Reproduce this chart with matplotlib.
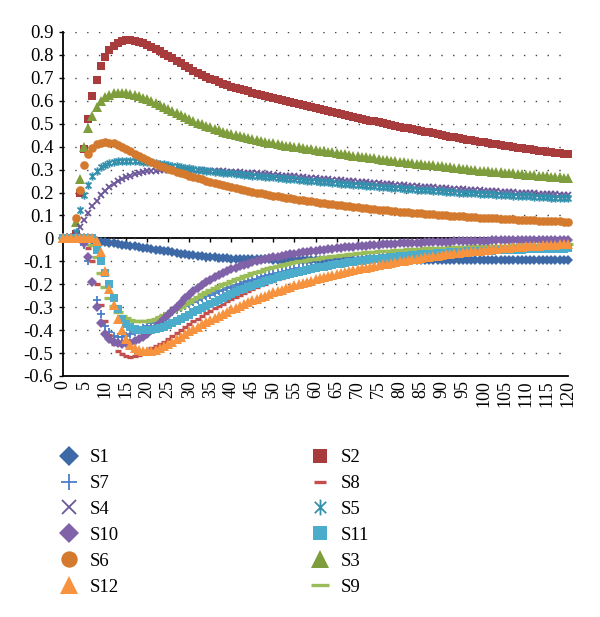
import matplotlib
matplotlib.use("Agg")
import matplotlib.pyplot as plt
from matplotlib.path import Path
from matplotlib.ticker import MultipleLocator, FuncFormatter

# x positions (every step 0..120)
t = list(range(121))

# ---- series values ----
s1 = [0, 0, 0, 0, 0, 0, 0, -0.008, -0.011, -0.014,
      -0.017, -0.019, -0.022, -0.024, -0.027, -0.030, -0.033, -0.035, -0.038, -0.040,
      -0.043, -0.046, -0.049, -0.051, -0.054, -0.057, -0.060, -0.063, -0.066, -0.069,
      -0.072, -0.074, -0.076, -0.078, -0.080, -0.082, -0.083, -0.084, -0.086, -0.087,
      -0.088, -0.089, -0.089, -0.090, -0.090, -0.091, -0.091, -0.092, -0.092, -0.092,
      -0.093, -0.093, -0.093, -0.093, -0.094, -0.094, -0.094, -0.094, -0.094, -0.094,
      -0.095, -0.095, -0.095, -0.095, -0.095, -0.095, -0.095, -0.095, -0.095, -0.095,
      -0.095, -0.095, -0.095, -0.095, -0.095, -0.095, -0.095, -0.095, -0.095, -0.095,
      -0.095, -0.095, -0.095, -0.095, -0.095, -0.095, -0.095, -0.095, -0.095, -0.095,
      -0.095, -0.095, -0.095, -0.095, -0.095, -0.095, -0.095, -0.095, -0.095, -0.095,
      -0.095, -0.095, -0.095, -0.095, -0.095, -0.095, -0.095, -0.095, -0.095, -0.095,
      -0.095, -0.095, -0.095, -0.095, -0.095, -0.095, -0.095, -0.095, -0.095, -0.095,
      -0.095]
s2 = [0, 0, 0, 0.02, 0.20, 0.39, 0.52, 0.62, 0.69, 0.75,
      0.79, 0.82, 0.84, 0.853, 0.861, 0.865, 0.865, 0.862, 0.857, 0.851,
      0.842, 0.834, 0.825, 0.816, 0.806, 0.795, 0.785, 0.774, 0.764, 0.753,
      0.742, 0.732, 0.723, 0.714, 0.705, 0.696, 0.689, 0.682, 0.675, 0.668,
      0.662, 0.656, 0.651, 0.646, 0.641, 0.636, 0.631, 0.626, 0.621, 0.617,
      0.612, 0.608, 0.603, 0.599, 0.594, 0.590, 0.585, 0.581, 0.577, 0.572,
      0.568, 0.564, 0.559, 0.555, 0.551, 0.547, 0.543, 0.539, 0.535, 0.530,
      0.526, 0.522, 0.518, 0.514, 0.510, 0.506, 0.502, 0.498, 0.494, 0.491,
      0.487, 0.483, 0.480, 0.476, 0.473, 0.469, 0.465, 0.462, 0.458, 0.455,
      0.451, 0.448, 0.444, 0.441, 0.438, 0.435, 0.431, 0.428, 0.425, 0.422,
      0.419, 0.416, 0.413, 0.410, 0.407, 0.405, 0.402, 0.399, 0.396, 0.393,
      0.391, 0.388, 0.385, 0.383, 0.380, 0.378, 0.375, 0.373, 0.371, 0.368,
      0.366]
s3 = [0, 0, 0, 0.07, 0.26, 0.40, 0.48, 0.535, 0.572, 0.598,
      0.615, 0.627, 0.633, 0.636, 0.636, 0.634, 0.631, 0.627, 0.622, 0.614,
      0.606, 0.599, 0.591, 0.583, 0.575, 0.566, 0.557, 0.548, 0.539, 0.530,
      0.521, 0.513, 0.505, 0.498, 0.491, 0.484, 0.478, 0.472, 0.466, 0.460,
      0.455, 0.450, 0.445, 0.441, 0.437, 0.433, 0.429, 0.425, 0.421, 0.418,
      0.414, 0.411, 0.408, 0.405, 0.402, 0.399, 0.397, 0.394, 0.391, 0.389,
      0.386, 0.383, 0.380, 0.378, 0.375, 0.372, 0.369, 0.367, 0.364, 0.361,
      0.359, 0.356, 0.354, 0.351, 0.349, 0.346, 0.344, 0.342, 0.339, 0.337,
      0.335, 0.333, 0.330, 0.328, 0.326, 0.324, 0.322, 0.320, 0.318, 0.316,
      0.314, 0.312, 0.310, 0.308, 0.306, 0.304, 0.302, 0.300, 0.298, 0.296,
      0.295, 0.293, 0.291, 0.289, 0.288, 0.286, 0.284, 0.283, 0.281, 0.280,
      0.278, 0.276, 0.275, 0.273, 0.272, 0.271, 0.269, 0.268, 0.266, 0.265,
      0.264]
s4 = [0, 0, 0, 0.02, 0.05, 0.08, 0.11, 0.14, 0.165, 0.188,
      0.207, 0.223, 0.237, 0.249, 0.259, 0.267, 0.274, 0.280, 0.285, 0.289,
      0.292, 0.294, 0.296, 0.298, 0.299, 0.300, 0.300, 0.300, 0.300, 0.299,
      0.299, 0.298, 0.297, 0.297, 0.296, 0.295, 0.294, 0.293, 0.292, 0.291,
      0.290, 0.289, 0.288, 0.286, 0.285, 0.284, 0.283, 0.281, 0.280, 0.279,
      0.277, 0.276, 0.274, 0.273, 0.271, 0.270, 0.268, 0.267, 0.265, 0.264,
      0.262, 0.261, 0.259, 0.258, 0.256, 0.255, 0.253, 0.252, 0.250, 0.249,
      0.247, 0.246, 0.244, 0.243, 0.241, 0.240, 0.239, 0.237, 0.236, 0.234,
      0.233, 0.232, 0.230, 0.229, 0.228, 0.226, 0.225, 0.224, 0.222, 0.221,
      0.220, 0.219, 0.217, 0.216, 0.215, 0.214, 0.213, 0.211, 0.210, 0.209,
      0.208, 0.207, 0.206, 0.205, 0.204, 0.203, 0.202, 0.201, 0.200, 0.199,
      0.198, 0.197, 0.196, 0.195, 0.194, 0.193, 0.193, 0.192, 0.191, 0.190,
      0.189]
s5 = [0, 0, 0, 0.03, 0.125, 0.19, 0.235, 0.27, 0.295, 0.31,
      0.32, 0.328, 0.333, 0.336, 0.338, 0.339, 0.339, 0.338, 0.337, 0.335,
      0.333, 0.331, 0.328, 0.326, 0.323, 0.320, 0.317, 0.314, 0.311, 0.308,
      0.305, 0.302, 0.299, 0.297, 0.295, 0.293, 0.291, 0.289, 0.287, 0.285,
      0.283, 0.281, 0.280, 0.278, 0.276, 0.274, 0.273, 0.271, 0.269, 0.267,
      0.266, 0.264, 0.262, 0.261, 0.259, 0.257, 0.256, 0.254, 0.252, 0.251,
      0.249, 0.247, 0.246, 0.244, 0.243, 0.241, 0.239, 0.238, 0.236, 0.235,
      0.233, 0.232, 0.230, 0.229, 0.227, 0.226, 0.224, 0.223, 0.221, 0.220,
      0.218, 0.217, 0.216, 0.214, 0.213, 0.212, 0.210, 0.209, 0.208, 0.206,
      0.205, 0.204, 0.203, 0.202, 0.200, 0.199, 0.198, 0.197, 0.196, 0.195,
      0.194, 0.193, 0.192, 0.191, 0.190, 0.189, 0.188, 0.187, 0.186, 0.185,
      0.184, 0.183, 0.182, 0.181, 0.180, 0.179, 0.178, 0.178, 0.177, 0.176,
      0.175]
s6 = [0, 0, 0, 0.09, 0.21, 0.32, 0.37, 0.395, 0.41, 0.418,
      0.42, 0.418, 0.414, 0.407, 0.399, 0.39, 0.38, 0.37, 0.36, 0.35,
      0.341, 0.333, 0.325, 0.317, 0.310, 0.303, 0.297, 0.291, 0.285, 0.279,
      0.273, 0.268, 0.262, 0.257, 0.252, 0.247, 0.243, 0.238, 0.234, 0.228,
      0.222, 0.218, 0.214, 0.210, 0.206, 0.203, 0.199, 0.196, 0.192, 0.189,
      0.186, 0.183, 0.180, 0.177, 0.174, 0.171, 0.168, 0.166, 0.163, 0.161,
      0.158, 0.156, 0.153, 0.151, 0.149, 0.146, 0.144, 0.142, 0.140, 0.138,
      0.136, 0.134, 0.132, 0.130, 0.128, 0.126, 0.124, 0.122, 0.121, 0.119,
      0.117, 0.115, 0.114, 0.112, 0.111, 0.109, 0.108, 0.106, 0.105, 0.103,
      0.102, 0.101, 0.099, 0.098, 0.097, 0.096, 0.095, 0.093, 0.092, 0.091,
      0.090, 0.089, 0.088, 0.087, 0.086, 0.085, 0.084, 0.083, 0.082, 0.081,
      0.080, 0.079, 0.079, 0.078, 0.077, 0.076, 0.075, 0.075, 0.074, 0.073,
      0.072]
s7 = [0, 0, 0, 0, 0, -0.03, -0.10, -0.19, -0.27, -0.33,
      -0.38, -0.41, -0.425, -0.43, -0.43, -0.425, -0.418, -0.41, -0.40, -0.39,
      -0.38, -0.37, -0.36, -0.35, -0.34, -0.33, -0.321, -0.312, -0.303, -0.294,
      -0.285, -0.277, -0.269, -0.261, -0.253, -0.245, -0.238, -0.231, -0.224, -0.217,
      -0.210, -0.204, -0.198, -0.192, -0.186, -0.180, -0.175, -0.170, -0.165, -0.160,
      -0.155, -0.151, -0.147, -0.142, -0.138, -0.134, -0.130, -0.127, -0.123, -0.119,
      -0.116, -0.113, -0.110, -0.107, -0.104, -0.101, -0.098, -0.095, -0.093, -0.090,
      -0.088, -0.085, -0.083, -0.081, -0.079, -0.077, -0.075, -0.073, -0.071, -0.069,
      -0.067, -0.066, -0.064, -0.063, -0.061, -0.060, -0.058, -0.057, -0.056, -0.055,
      -0.053, -0.052, -0.051, -0.050, -0.049, -0.048, -0.047, -0.046, -0.045, -0.044,
      -0.044, -0.043, -0.042, -0.041, -0.041, -0.040, -0.039, -0.039, -0.038, -0.037,
      -0.037, -0.036, -0.036, -0.035, -0.035, -0.034, -0.034, -0.033, -0.033, -0.032,
      -0.032]
s8 = [0, 0, 0, 0, 0, 0, -0.04, -0.10, -0.20, -0.29,
      -0.36, -0.42, -0.46, -0.49, -0.505, -0.512, -0.515, -0.513, -0.508, -0.50,
      -0.49, -0.48, -0.47, -0.46, -0.45, -0.438, -0.425, -0.412, -0.40, -0.387,
      -0.375, -0.362, -0.35, -0.338, -0.326, -0.315, -0.304, -0.294, -0.284, -0.274,
      -0.265, -0.256, -0.247, -0.238, -0.229, -0.221, -0.213, -0.205, -0.198, -0.191,
      -0.184, -0.178, -0.172, -0.166, -0.160, -0.155, -0.150, -0.145, -0.140, -0.135,
      -0.131, -0.127, -0.123, -0.119, -0.115, -0.112, -0.108, -0.105, -0.102, -0.099,
      -0.096, -0.093, -0.091, -0.088, -0.086, -0.083, -0.081, -0.079, -0.077, -0.075,
      -0.073, -0.071, -0.069, -0.068, -0.066, -0.064, -0.063, -0.061, -0.060, -0.058,
      -0.057, -0.056, -0.054, -0.053, -0.052, -0.051, -0.050, -0.049, -0.048, -0.047,
      -0.046, -0.045, -0.044, -0.043, -0.042, -0.041, -0.041, -0.040, -0.039, -0.038,
      -0.038, -0.037, -0.036, -0.036, -0.035, -0.035, -0.034, -0.034, -0.033, -0.033,
      -0.032]
s9 = [0, 0, 0, 0, 0, 0, 0, -0.03, -0.08, -0.15,
      -0.21, -0.26, -0.295, -0.32, -0.338, -0.348, -0.355, -0.358, -0.36, -0.36,
      -0.358, -0.355, -0.35, -0.343, -0.335, -0.327, -0.318, -0.308, -0.298, -0.287,
      -0.276, -0.265, -0.254, -0.244, -0.234, -0.225, -0.217, -0.209, -0.201, -0.193,
      -0.186, -0.179, -0.172, -0.165, -0.158, -0.152, -0.146, -0.140, -0.135, -0.130,
      -0.125, -0.120, -0.116, -0.112, -0.108, -0.104, -0.100, -0.097, -0.094, -0.091,
      -0.088, -0.085, -0.082, -0.080, -0.077, -0.075, -0.073, -0.071, -0.069, -0.067,
      -0.065, -0.063, -0.061, -0.060, -0.058, -0.057, -0.055, -0.054, -0.053, -0.051,
      -0.050, -0.049, -0.048, -0.047, -0.046, -0.045, -0.044, -0.043, -0.042, -0.041,
      -0.040, -0.040, -0.039, -0.038, -0.037, -0.037, -0.036, -0.035, -0.035, -0.034,
      -0.034, -0.033, -0.033, -0.032, -0.032, -0.031, -0.031, -0.030, -0.030, -0.029,
      -0.029, -0.029, -0.028, -0.028, -0.027, -0.027, -0.027, -0.026, -0.026, -0.026,
      -0.025]
s10 = [0, 0, 0, 0, 0, -0.02, -0.08, -0.19, -0.30, -0.37,
       -0.415, -0.44, -0.452, -0.458, -0.46, -0.458, -0.455, -0.448, -0.44, -0.428,
       -0.415, -0.40, -0.385, -0.368, -0.35, -0.332, -0.315, -0.297, -0.28, -0.262,
       -0.245, -0.23, -0.215, -0.203, -0.191, -0.18, -0.17, -0.16, -0.151, -0.143,
       -0.135, -0.128, -0.122, -0.116, -0.110, -0.105, -0.100, -0.096, -0.091, -0.087,
       -0.083, -0.079, -0.076, -0.072, -0.069, -0.066, -0.063, -0.061, -0.058, -0.056,
       -0.053, -0.051, -0.049, -0.047, -0.045, -0.043, -0.041, -0.039, -0.037, -0.036,
       -0.034, -0.033, -0.031, -0.030, -0.029, -0.028, -0.026, -0.025, -0.024, -0.023,
       -0.022, -0.021, -0.020, -0.020, -0.019, -0.018, -0.017, -0.017, -0.016, -0.015,
       -0.015, -0.014, -0.014, -0.013, -0.013, -0.012, -0.012, -0.011, -0.011, -0.010,
       -0.010, -0.010, -0.009, -0.009, -0.009, -0.008, -0.008, -0.008, -0.007, -0.007,
       -0.007, -0.007, -0.006, -0.006, -0.006, -0.006, -0.005, -0.005, -0.005, -0.005,
       -0.005]
s11 = [0, 0, 0, 0, 0, 0, 0, 0, -0.05, -0.10,
       -0.15, -0.20, -0.26, -0.31, -0.35, -0.372, -0.385, -0.393, -0.398, -0.40,
       -0.40, -0.398, -0.395, -0.39, -0.385, -0.378, -0.37, -0.361, -0.352, -0.342,
       -0.333, -0.323, -0.314, -0.304, -0.295, -0.286, -0.277, -0.268, -0.259, -0.251,
       -0.243, -0.235, -0.227, -0.220, -0.213, -0.206, -0.199, -0.193, -0.187, -0.181,
       -0.175, -0.170, -0.165, -0.160, -0.155, -0.150, -0.146, -0.142, -0.138, -0.134,
       -0.130, -0.126, -0.123, -0.120, -0.116, -0.113, -0.110, -0.107, -0.104, -0.102,
       -0.099, -0.097, -0.094, -0.092, -0.090, -0.088, -0.086, -0.084, -0.082, -0.080,
       -0.078, -0.076, -0.075, -0.073, -0.072, -0.070, -0.069, -0.067, -0.066, -0.065,
       -0.064, -0.063, -0.061, -0.060, -0.059, -0.058, -0.057, -0.057, -0.056, -0.055,
       -0.054, -0.053, -0.053, -0.052, -0.051, -0.051, -0.050, -0.050, -0.049, -0.049,
       -0.048, -0.048, -0.047, -0.047, -0.046, -0.046, -0.046, -0.045, -0.045, -0.045,
       -0.044]
s12 = [0, 0, 0, 0, 0, 0, 0, 0, -0.01, -0.06,
       -0.14, -0.22, -0.29, -0.35, -0.40, -0.44, -0.465, -0.48, -0.488, -0.492,
       -0.492, -0.49, -0.485, -0.478, -0.47, -0.46, -0.45, -0.44, -0.43, -0.418,
       -0.405, -0.395, -0.385, -0.375, -0.365, -0.355, -0.346, -0.337, -0.328, -0.319,
       -0.310, -0.302, -0.294, -0.286, -0.278, -0.270, -0.263, -0.256, -0.249, -0.242,
       -0.235, -0.229, -0.223, -0.217, -0.211, -0.205, -0.200, -0.194, -0.189, -0.184,
       -0.179, -0.174, -0.169, -0.165, -0.160, -0.156, -0.152, -0.147, -0.143, -0.139,
       -0.135, -0.131, -0.128, -0.124, -0.120, -0.117, -0.113, -0.110, -0.107, -0.104,
       -0.100, -0.097, -0.094, -0.091, -0.088, -0.085, -0.083, -0.080, -0.077, -0.075,
       -0.072, -0.070, -0.067, -0.065, -0.063, -0.061, -0.059, -0.057, -0.055, -0.053,
       -0.051, -0.049, -0.047, -0.046, -0.044, -0.042, -0.041, -0.039, -0.038, -0.036,
       -0.035, -0.034, -0.032, -0.031, -0.030, -0.029, -0.028, -0.027, -0.026, -0.025,
       -0.024]

labels = ["S1", "S2", "S3", "S4", "S5", "S6", "S7", "S8", "S9", "S10", "S11", "S12"]
values = [s1, s2, s3, s4, s5, s6, s7, s8, s9, s10, s11, s12]
legend_order = ["S1", "S7", "S4", "S10", "S6", "S12",
                "S2", "S8", "S5", "S11", "S3", "S9"]

# Excel-like "star" marker: an x with a vertical bar through it
STAR = Path([(0, -1), (0, 1), (-0.72, -0.72), (0.72, 0.72), (-0.72, 0.72), (0.72, -0.72)],
            [Path.MOVETO, Path.LINETO] * 3)

# marker, size, edge width, colour
styles = {
    "S1":  ('D', 5.2, 0.0, '#3D6AA7'),
    "S2":  ('s', 5.6, 0.0, '#A83B3B'),
    "S3":  ('^', 6.6, 0.0, '#7E9D3C'),
    "S4":  ('x', 5.0, 1.3, '#6A5699'),
    "S5":  (STAR, 6.0, 1.3, '#3391AE'),
    "S6":  ('o', 6.2, 0.0, '#D47A2F'),
    "S7":  ('+', 6.0, 1.3, '#4A7EC8'),
    "S8":  ('_', 4.5, 2.4, '#C24F4C'),
    "S9":  ('_', 7.0, 2.4, '#9BBD59'),
    "S10": ('D', 5.2, 0.0, '#7F62A8'),
    "S11": ('s', 5.6, 0.0, '#4BADCB'),
    "S12": ('^', 6.6, 0.0, '#F7923F'),
}

plt.rcParams['font.family'] = 'Liberation Serif'
plt.rcParams['axes.unicode_minus'] = False

fig = plt.figure(figsize=(6.0, 6.17), dpi=100)
ax = fig.add_axes([63 / 600, 1 - 376 / 617, (568 - 63) / 600, (376 - 32) / 617])

handles = {}
for name, ys in zip(labels, values):
    m, ms, mew, col = styles[name]
    if mew > 0:
        h, = ax.plot(t, ys, ls='none', marker=m, ms=ms, mew=mew, color=col,
                     clip_on=False, zorder=3)
    else:
        h, = ax.plot(t, ys, ls='none', marker=m, ms=ms, mew=0, mfc=col,
                     color=col, clip_on=False, zorder=3)
    handles[name] = h

ax.set_xlim(0, 120)
ax.set_ylim(-0.6, 0.9)

for s in ['top', 'right']:
    ax.spines[s].set_visible(False)
ax.spines['left'].set_linewidth(1.3)
ax.spines['bottom'].set_linewidth(1.3)

ax.yaxis.set_major_locator(MultipleLocator(0.1))
ax.yaxis.set_major_formatter(FuncFormatter(lambda v, p: f"{v:.1f}" if abs(v) > 1e-9 else "0"))
ax.xaxis.set_major_locator(MultipleLocator(5))
ax.tick_params(axis='y', direction='out', length=3, width=1, pad=4, labelsize=13.5)
ax.tick_params(axis='x', length=0, pad=3, labelsize=13, labelrotation=90)

# dotted horizontal gridlines
ax.yaxis.grid(True, linestyle=(0, (1, 7.5)), color='#444444', lw=1.0)
ax.set_axisbelow(True)

# horizontal axis line through zero with tick marks
zax = ax.secondary_xaxis(0.4)
zax.xaxis.set_major_locator(MultipleLocator(5))
zax.tick_params(direction='out', length=3, width=1, labelbottom=False, labeltop=False)
zax.spines['bottom'].set_linewidth(1.3)

fig.legend([handles[n] for n in legend_order], legend_order,
           ncol=2, loc='upper left', bbox_to_anchor=(60 / 600, 1 - 449 / 617),
           frameon=False, fontsize=13.5, markerscale=1.9,
           handlelength=1.0, handletextpad=0.6, columnspacing=10.2,
           labelspacing=0.47, borderpad=0, borderaxespad=0)

fig.savefig("out.png", dpi=100)
